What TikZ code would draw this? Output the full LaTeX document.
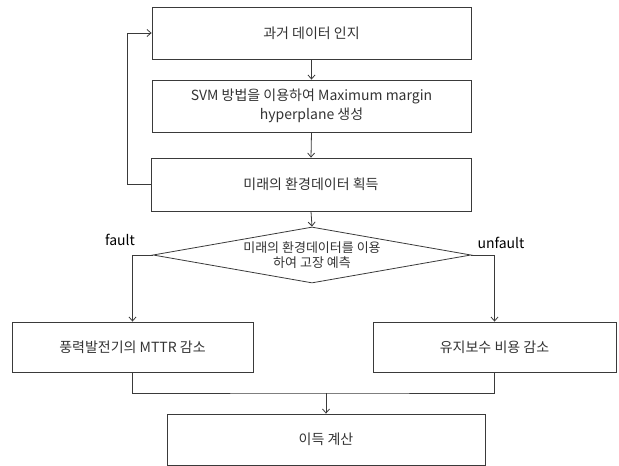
\documentclass[tikz,border=0pt]{standalone}
\usepackage{fontspec}
\setmainfont{Noto Sans CJK KR}
\usetikzlibrary{arrows.meta,shapes.geometric}
\definecolor{ln}{HTML}{3A3A3A}
\definecolor{tx}{HTML}{333333}
\tikzset{
  box/.style={draw=ln, line width=0.8pt, rectangle, inner sep=0pt, text=tx,
    font=\fontsize{14}{19}\selectfont, align=center},
  dia/.style={draw=ln, line width=0.8pt, diamond, aspect=5.68, inner sep=0pt,
    minimum width=318pt, minimum height=56pt, text=tx,
    font=\fontsize{13}{15}\selectfont, align=center},
  conn/.style={draw=ln, line width=0.8pt},
  arr/.style={conn, -{Straight Barb[length=4pt,width=7pt]}},
  lbl/.style={text=black, font=\fontsize{14}{16}\selectfont, inner sep=0pt}
}
\begin{document}
\begin{tikzpicture}[x=1pt,y=-1pt]
\useasboundingbox (0,0) rectangle (619,466);
\node[box, minimum width=319pt, minimum height=52pt] (b1) at (311.5,33) {과거 데이터 인지};
\node[box, minimum width=319pt, minimum height=52pt] (b2) at (311.5,106) {SVM 방법을 이용하여 Maximum margin\\hyperplane 생성};
\node[box, minimum width=320pt, minimum height=53pt] (b3) at (311,184.5) {미래의 환경데이터 획득};
\node[dia] (d) at (312,255) {미래의 환경데이터를 이용\\하여 고장 예측};
\node[box, minimum width=241pt, minimum height=50pt] (L) at (132.5,347) {풍력발전기의 MTTR 감소};
\node[box, minimum width=243pt, minimum height=50pt] (R) at (494.5,347) {유지보수 비용 감소};
\node[box, minimum width=318pt, minimum height=51pt] (E) at (326,439.5) {이득 계산};
\node[lbl] (f) at (120,240) {fault};
\node[lbl] (u) at (501,243) {unfault};
\coordinate (m) at (326,393);
\coordinate (fb) at (127,184.5);
\draw[arr] (b1.south) -- (b2.north);
\draw[arr] (b2.south) -- (b3.north);
\draw[arr] (b3.south) -- (d.north);
\draw[arr] (b3.west) -- (fb) |- (b1.west);
\draw[arr] (d.west) -| (L.north);
\draw[arr] (d.east) -| (R.north);
\draw[conn] (L.south) |- (m) -| (R.south);
\draw[arr] (m) -- (E.north);
\end{tikzpicture}
\end{document}
